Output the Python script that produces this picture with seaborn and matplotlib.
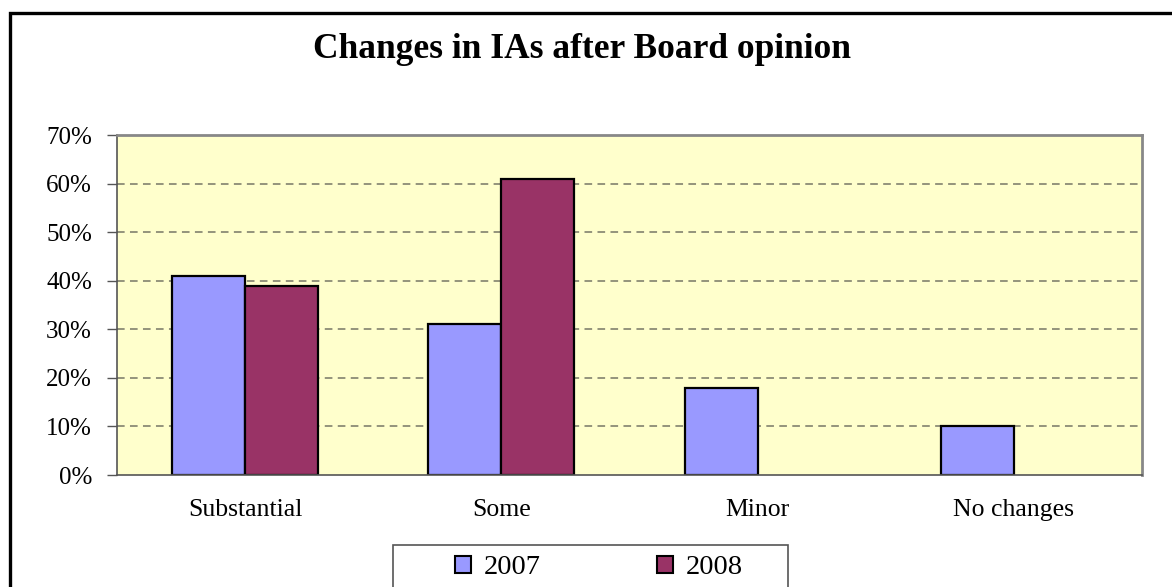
import pandas as pd
import matplotlib.pyplot as plt
import matplotlib.patches as mpatches
import seaborn as sns

# data
categories = ["Substantial", "Some", "Minor", "No changes"]
years = ["2007", "2008"]
share_2007 = [41, 31, 18, 10]
share_2008 = [39, 61, 0, 0]
y_ticks = [0, 10, 20, 30, 40, 50, 60, 70]
colors = ["#9999FF", "#993366"]

df = pd.DataFrame({
    "category": categories * 2,
    "year": [years[0]] * 4 + [years[1]] * 4,
    "value": share_2007 + share_2008,
})

sns.set_style("white")
plt.rcParams["font.family"] = ["Liberation Serif", "DejaVu Serif"]
plt.rcParams["text.color"] = "black"
plt.rcParams["xtick.color"] = "black"
plt.rcParams["ytick.color"] = "black"

fig = plt.figure(figsize=(11.72, 5.87), dpi=100)
ax = fig.add_axes([117 / 1172, 1 - 475 / 587, (1142 - 117) / 1172, (475 - 135) / 587])

sns.barplot(data=df, x="category", y="value", hue="year", order=categories,
            hue_order=years, palette=colors, width=0.57,
            edgecolor="black", linewidth=1.6, saturation=1, ax=ax)

# empty 2008 bars are not drawn in the original
for cont in ax.containers:
    for p in cont:
        if p.get_height() == 0:
            p.set_visible(False)

ax.set_facecolor("#FFFFCC")
ax.set_ylim(0, 70)
ax.set_xlim(-0.5, 3.5)
ax.set_yticks(y_ticks)
ax.set_yticklabels([f"{v}%" for v in y_ticks], fontsize=18)
for v in y_ticks[1:-1]:
    ax.axhline(v, color="#777766", linestyle=(0, (5, 3.5)), linewidth=1.1, zorder=0.5)

# category labels centred, tick marks on the boundaries
ax.set_xticks(range(len(categories)))
ax.set_xticklabels(categories, fontsize=18.5)
ax.tick_params(axis="x", which="major", length=0, pad=17)
ax.set_xticks([-0.5, 0.5, 1.5, 2.5, 3.5], minor=True)
ax.tick_params(axis="x", which="minor", length=6, width=1, color="#555555", direction="out")
ax.tick_params(axis="y", length=7, width=1, color="#555555", direction="out", pad=11, left=True)
ax.set_xlabel("")
ax.set_ylabel("")
for side in ["top", "right"]:
    ax.spines[side].set_color("#888888")
    ax.spines[side].set_linewidth(2)
for side in ["left", "bottom"]:
    ax.spines[side].set_color("#555555")
    ax.spines[side].set_linewidth(1.2)

# legend: frameless entries plus a box that runs off the bottom edge
ax.get_legend().remove()
handles = [mpatches.Patch(facecolor=c, edgecolor="black", linewidth=1.5) for c in colors]
fig.legend(handles, years, loc="center left",
           bbox_to_anchor=(455 / 1172, 1 - 568 / 587),
           ncol=2, fontsize=20.5, frameon=False, borderaxespad=0, borderpad=0,
           handlelength=0.55, handleheight=0.55, handletextpad=0.45,
           columnspacing=4.1)
legend_box = mpatches.Rectangle((393 / 1172, -0.1), 395 / 1172, 1 - 545 / 587 + 0.1,
                                transform=fig.transFigure, fill=False,
                                edgecolor="#555555", linewidth=1.2, clip_on=False)
fig.patches.append(legend_box)

fig.text(0.497, 1 - 50 / 587, "Changes in IAs after Board opinion",
         ha="center", va="center", fontsize=25.5, fontweight="bold")

# outer chart border (open to the right and bottom like the original crop)
border = mpatches.Rectangle((10 / 1172, -0.2), 1.2, 1 - 12.5 / 587 + 0.2,
                            transform=fig.transFigure, fill=False,
                            edgecolor="black", linewidth=2.4, clip_on=False)
fig.patches.append(border)

fig.savefig("out.png", dpi=100)
